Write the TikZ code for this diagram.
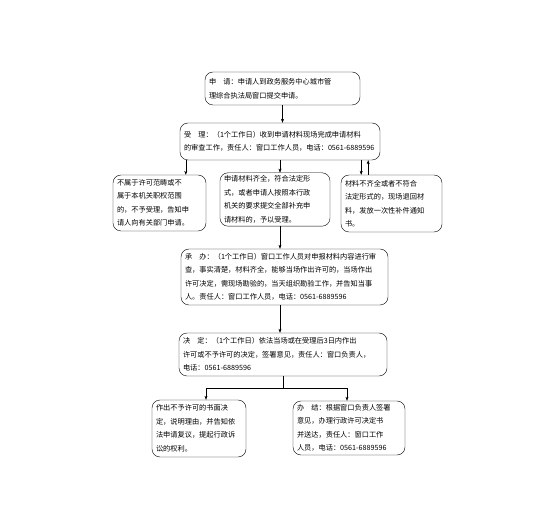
\documentclass[tikz,border=0pt]{standalone}
\usepackage{fontspec}
\setmainfont{Noto Sans CJK SC}
\usetikzlibrary{arrows.meta,calc}

\begin{document}
\begin{tikzpicture}[x=1pt,y=-1pt,
  box/.style={draw,thin,rounded corners=8pt,align=left,inner xsep=4pt,inner ysep=3pt,
    font=\fontsize{7.2}{13.5}\selectfont},
  arr/.style={thin,-{Stealth[length=4pt,width=3pt]}}]
  \useasboundingbox (0,0) rectangle (554,526);
  % main column
  \node[box,text width=147pt,minimum height=33pt] (apply) at (282.5,88.5)
    {申　请：申请人到政务服务中心城市管\\理综合执法局窗口提交申请。};
  \node[box,text width=192pt,minimum height=37pt] (accept) at (280,141.5)
    {受　理：（1个工作日）收到申请材料现场完成申请材料\\\mbox{的审查工作，责任人：窗口工作人员，电话：0561-6889596}};
  \node[box,text width=85pt,minimum height=56pt] (reject) at (159.5,203)
    {不属于许可范畴或不\\属于本机关职权范围\\的，不予受理，告知申\\请人向有关部门申请。};
  \node[box,text width=102pt,minimum height=51pt] (complete) at (275,199.5)
    {申请材料齐全，符合法定形\\式，或者申请人按照本行政\\机关的要求提交全部补充申\\请材料的，予以受理。};
  \node[box,text width=93pt,minimum height=57pt] (incomplete) at (391.5,203.5)
    {材料不齐全或者不符合\\法定形式的，现场退回材\\料，发放一次性补件通知\\书。};
  \node[box,text width=199pt,minimum height=56pt] (handle) at (284.5,277)
    {承　办：（1个工作日）窗口工作人员对申报材料内容进行审\\查，事实清楚，材料齐全，能够当场作出许可的，当场作出\\许可决定，需现场勘验的，当天组织勘验工作，并告知当事\\人。责任人：窗口工作人员，电话：0561-6889596};
  \node[box,text width=200pt,minimum height=43pt] (decide) at (283,354.5)
    {决　定：（1个工作日）依法当场或在受理后3日内作出\\许可或不予许可的决定，签署意见，责任人：窗口负责人，\\电话：0561-6889596};
  \node[box,text width=86pt,minimum height=57pt] (deny) at (199,428.5)
    {作出不予许可的书面决\\定，说明理由，并告知依\\法申请复议，提起行政诉\\讼的权利。};
  \node[box,text width=104pt,minimum height=54pt] (issue) at (349,428)
    {办　结：根据窗口负责人签署\\意见，办理行政许可决定书\\并送达，责任人：窗口工作\\\mbox{人员，电话：0561-6889596}};

  \draw[arr] (apply) -- (apply |- accept.north);
  \draw[arr] ([xshift=6pt]accept.south west) -- ([xshift=6pt]accept.south west |- reject.north);
  \draw[arr] (accept.south) -- (accept.south |- complete.north);
  \draw[arr] ([xshift=-19pt]accept.south east) -- ([xshift=-19pt]accept.south east |- incomplete.north);
  \draw[arr] ([xshift=-12pt]accept.south east |- incomplete.north) -- ([xshift=-12pt]accept.south east);
  \draw[arr] (accept.south |- complete.south) -- (accept.south |- handle.north);
  \draw[arr] (accept.south |- handle.south) -- (accept.south |- decide.north);
  % split to the two results
  \coordinate (split) at ($(decide.south)+(0,12)$);
  \draw (decide.south) -- (split);
  \draw[arr] (split) -| ([xshift=7pt]deny.north);
  \draw[arr] (split) -| ([xshift=-2pt]issue.north);
\end{tikzpicture}
\end{document}
